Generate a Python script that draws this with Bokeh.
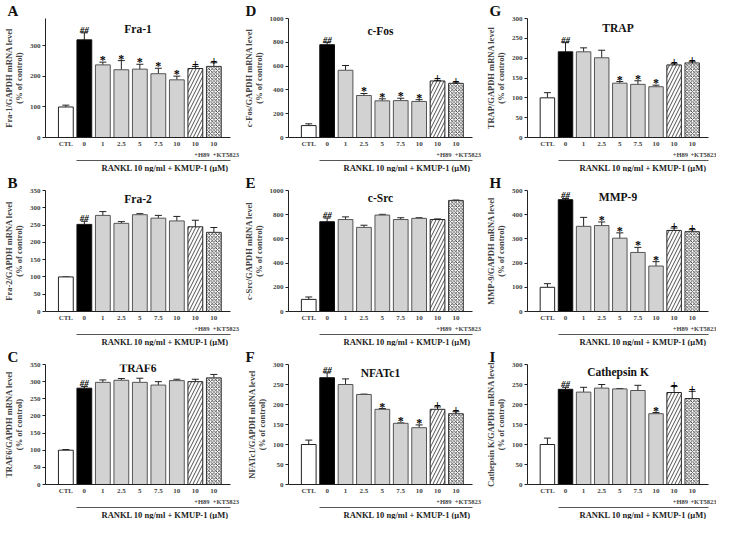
from bokeh.plotting import figure
from bokeh.layouts import gridplot
from bokeh.models import ColumnDataSource, Range1d, FixedTicker, LinearAxis, Label, Whisker, TeeHead, Title
from bokeh.core.properties import value
from bokeh.embed import file_html
from bokeh.resources import INLINE

FONT = "Liberation Serif"

groups = ["CTL", "0", "1", "2.5", "5", "7.5", "10", "10", "10"]
extra_labels = ["+H89", "+KT5823"]
x_title = "RANKL 10 ng/ml + KMUP-1 (\u03bcM)"
sub_ylabel = "(% of control)"

# A  Fra-1
fra1 = [100, 320, 238, 222, 224, 209, 189, 226, 233]
fra1_err = [6, 23, 9, 30, 16, 18, 12, 7, 12]
fra1_sig = ["", "##", "*", "*", "*", "*", "*", "+", "+"]
fra1_ticks = [0, 100, 200, 300]
# B  Fra-2
fra2 = [100, 252, 278, 255, 280, 270, 262, 245, 229]
fra2_err = [0, 9, 11, 5, 3, 8, 13, 19, 14]
fra2_sig = ["", "##", "", "", "", "", "", "", ""]
fra2_ticks = [0, 50, 100, 150, 200, 250, 300, 350]
# C  TRAF6
traf6 = [100, 281, 298, 304, 298, 290, 303, 300, 311]
traf6_err = [2, 5, 7, 5, 12, 10, 4, 7, 10]
traf6_sig = ["", "##", "", "", "", "", "", "", ""]
traf6_ticks = [0, 50, 100, 150, 200, 250, 300, 350]
# D  c-Fos
cfos = [100, 780, 565, 353, 308, 310, 303, 475, 455]
cfos_err = [15, 17, 40, 17, 17, 20, 15, 5, 5]
cfos_sig = ["", "##", "", "*", "*", "*", "*", "+", "+"]
cfos_ticks = [0, 200, 400, 600, 800, 1000]
# E  c-Src
csrc = [100, 742, 760, 695, 797, 760, 770, 760, 918]
csrc_err = [20, 30, 22, 18, 6, 15, 5, 5, 3]
csrc_sig = ["", "##", "", "", "", "", "", "", ""]
csrc_ticks = [0, 200, 400, 600, 800, 1000]
# F  NFATc1
nfatc1 = [100, 267, 250, 225, 188, 153, 142, 188, 177]
nfatc1_err = [11, 12, 14, 1, 2, 1, 7, 6, 5]
nfatc1_sig = ["", "##", "", "", "*", "*", "*", "+", "+"]
nfatc1_ticks = [0, 50, 100, 150, 200, 250, 300]
# G  TRAP
trap = [100, 216, 216, 201, 137, 134, 128, 183, 188]
trap_err = [13, 23, 10, 19, 4, 9, 4, 3, 3]
trap_sig = ["", "##", "", "", "*", "*", "*", "+", "+"]
trap_ticks = [0, 50, 100, 150, 200, 250, 300]
# H  MMP-9
mmp9 = [100, 462, 352, 355, 303, 244, 188, 335, 330]
mmp9_err = [15, 5, 37, 15, 22, 21, 18, 10, 8]
mmp9_sig = ["", "##", "", "*", "*", "*", "*", "+", "+"]
mmp9_ticks = [0, 100, 200, 300, 400, 500]
# I  Cathepsin K
ctsk = [100, 238, 231, 241, 239, 235, 177, 230, 215]
ctsk_err = [16, 5, 12, 9, 1, 13, 3, 15, 18]
ctsk_sig = ["", "##", "", "", "", "", "*", "+", "+"]
ctsk_ticks = [0, 50, 100, 150, 200, 250, 300]

# bar styles
fills = ["white", "black"] + ["#d2d2d2"] * 5 + ["white", "white"]
lines = ["#222222", "#111111"] + ["#555555"] * 5 + ["#222222", "#333333"]
hatches = [" "] * 7 + ["/", "x"]
hatch_scales = [6] * 7 + [7, 3.5]

col_w = [240, 242, 234]
col_left = [40, 45, 40]
col_right = [10, 10, 8]
row_h = [172, 174, 173]
row_bottom = [8, 8, 8]


def make_panel(letter, title, gene, vals, errs, sig, ticks, ymax, title_off, row, col):
    p = figure(width=col_w[col], height=row_h[row], output_backend="svg",
               toolbar_location=None, x_range=Range1d(-1.1, 8.9),
               y_range=Range1d(0, ymax),
               min_border_left=col_left[col], min_border_right=col_right[col],
               min_border_top=2, min_border_bottom=row_bottom[row])
    p.xgrid.visible = False
    p.ygrid.visible = False
    p.outline_line_color = None
    p.background_fill_color = "white"

    # panel letter as the plot title, pushed to the left edge
    p.title.text = letter
    p.title.align = "left"
    p.title.offset = -(col_left[col] - 2)
    p.title.standoff = 0
    p.title.text_font = FONT
    p.title.text_font_style = "bold"
    p.title.text_font_size = "15px"
    p.title.text_color = "#111111"

    xs = list(range(len(groups)))
    tops = [v + e for v, e in zip(vals, errs)]
    src = ColumnDataSource(dict(x=xs, v=vals, top=tops, fill=fills, line=lines,
                                hatch=hatches, hs=hatch_scales))
    p.vbar(x="x", top="v", bottom=0, width=0.8, source=src, fill_color="fill",
           line_color="line", line_width=1, hatch_pattern="hatch",
           hatch_color="#222222", hatch_weight=0.8, hatch_scale="hs")
    p.add_layout(Whisker(source=src, base="x", lower="v", upper="top",
                         dimension="height", line_color="#222222", line_width=1,
                         upper_head=TeeHead(size=7, line_color="#222222", line_width=1),
                         lower_head=None))

    # significance marks
    hh = [i for i, s in enumerate(sig) if s == "##"]
    oth = [i for i, s in enumerate(sig) if s and s != "##"]
    if hh:
        s1 = ColumnDataSource(dict(x=[xs[i] for i in hh], y=[tops[i] for i in hh],
                                   t=[sig[i] for i in hh]))
        p.text(x="x", y="y", text="t", source=s1, text_font=value(FONT),
               text_font_style="bold italic", text_font_size="9px",
               text_align="center", text_baseline="alphabetic", y_offset=-3,
               text_color="black")
    if oth:
        s2 = ColumnDataSource(dict(x=[xs[i] for i in oth], y=[tops[i] for i in oth],
                                   t=[sig[i] for i in oth]))
        p.text(x="x", y="y", text="t", source=s2, text_font=value(FONT),
               text_font_style="bold", text_font_size="12px",
               text_align="center", text_baseline="alphabetic", y_offset=-2,
               text_color="black")

    # y axis
    ya = p.yaxis[0]
    ya.ticker = FixedTicker(ticks=ticks)
    ya.axis_label = gene + "/GAPDH mRNA level\n" + sub_ylabel
    ya.axis_label_text_font = FONT
    ya.axis_label_text_font_style = "bold"
    ya.axis_label_text_font_size = "8.5px"
    ya.axis_label_text_line_height = 1.0
    ya.axis_label_standoff = 3
    ya.major_label_text_font = FONT
    ya.major_label_text_font_style = "bold"
    ya.major_label_text_font_size = "7px"
    ya.major_label_standoff = 2
    ya.major_tick_out = 3
    ya.major_tick_in = 0
    ya.minor_tick_line_color = None
    ya.axis_line_color = "#222222"
    ya.major_tick_line_color = "#222222"

    # x axis: first line of labels
    xa = p.xaxis[0]
    xa.ticker = FixedTicker(ticks=xs)
    xa.major_label_overrides = {i: g for i, g in enumerate(groups)}
    xa.major_tick_line_color = None
    xa.major_tick_out = 0
    xa.major_tick_in = 0
    xa.minor_tick_line_color = None
    xa.minor_tick_out = 0
    xa.major_label_standoff = 2
    xa.major_label_text_font = FONT
    xa.major_label_text_font_style = "bold"
    xa.major_label_text_font_size = "7px"
    xa.axis_line_color = "#222222"

    # second line of labels (inhibitors)
    xa2 = LinearAxis(ticker=FixedTicker(ticks=[7.35, 8.65]),
                     major_label_overrides={7.35: extra_labels[0], 8.65: extra_labels[1]},
                     axis_line_color=None, major_tick_line_color=None,
                     major_tick_out=0, major_tick_in=0, minor_tick_out=0,
                     minor_tick_line_color=None, major_label_standoff=0,
                     major_label_text_font=FONT, major_label_text_font_style="bold",
                     major_label_text_font_size="6.5px")
    p.add_layout(xa2, "below")

    # bracket line under treated groups
    xa3 = LinearAxis(ticker=FixedTicker(ticks=[]), bounds=(0.6, 8.9),
                     axis_line_color="#555555", axis_line_width=1,
                     major_tick_line_color=None, minor_tick_line_color=None,
                     major_tick_out=0, major_tick_in=0, minor_tick_out=0,
                     major_label_standoff=0, major_label_text_font_size="1px")
    p.add_layout(xa3, "below")

    # group title under the bracket, right-aligned under the treated bars
    p.add_layout(Title(text=x_title, align="right", offset=2, standoff=0,
                       text_font=FONT, text_font_style="bold",
                       text_font_size="8.5px", text_color="#222222"), "below")

    # gene title inside the frame
    p.add_layout(Label(x=3.9, y=ymax, y_offset=-title_off, text=title, text_font=FONT,
                       text_font_style="bold", text_font_size="11.5px",
                       text_align="center", text_baseline="middle",
                       text_color="#111111"))
    return p


pA = make_panel("A", "Fra-1", "Fra-1", fra1, fra1_err, fra1_sig, fra1_ticks, 390, 10, 0, 0)
pB = make_panel("B", "Fra-2", "Fra-2", fra2, fra2_err, fra2_sig, fra2_ticks, 350, 8, 1, 0)
pC = make_panel("C", "TRAF6", "TRAF6", traf6, traf6_err, traf6_sig, traf6_ticks, 350, 3, 2, 0)
pD = make_panel("D", "c-Fos", "c-Fos", cfos, cfos_err, cfos_sig, cfos_ticks, 1000, 12, 0, 1)
pE = make_panel("E", "c-Src", "c-Src", csrc, csrc_err, csrc_sig, csrc_ticks, 1000, 7, 1, 1)
pF = make_panel("F", "NFATc1", "NFATc1", nfatc1, nfatc1_err, nfatc1_sig, nfatc1_ticks, 300, 8, 2, 1)
pG = make_panel("G", "TRAP", "TRAP", trap, trap_err, trap_sig, trap_ticks, 300, 9, 0, 2)
pH = make_panel("H", "MMP-9", "MMP-9", mmp9, mmp9_err, mmp9_sig, mmp9_ticks, 500, 6, 1, 2)
pI = make_panel("I", "Cathepsin K", "Cathepsin K", ctsk, ctsk_err, ctsk_sig, ctsk_ticks, 300, 7, 2, 2)

grid = gridplot([[pA, pD, pG], [pB, pE, pH], [pC, pF, pI]], toolbar_location=None)

with open("out.html", "w") as f:
    f.write(file_html(grid, INLINE))
